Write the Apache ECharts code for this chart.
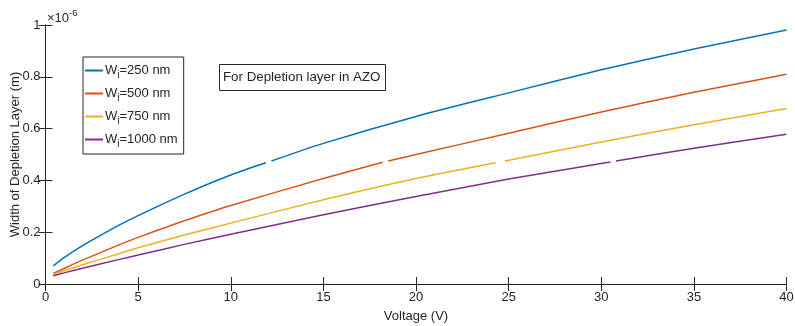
<!DOCTYPE html>
<html>
<head>
<meta charset="utf-8">
<script src="https://cdn.jsdelivr.net/npm/echarts@6/dist/echarts.min.js"></script>
<style>
  html, body { margin: 0; padding: 0; background: #fff; }
  #chart { width: 795px; height: 326px; }
</style>
</head>
<body>
<div id="chart"></div>
<script>
// Depletion width (in units of 1e-6 m) versus applied voltage, one curve per Wi.
// A null entry marks the short break drawn in each curve.
const voltage250 = [0.42, 1, 2, 4, 5, 7.5, 10, 11.9, 12.05, 12.2, 15, 20, 25, 30, 35, 40];
const width250   = [0.070, 0.102, 0.148, 0.228, 0.264, 0.347, 0.421, 0.468, null, 0.475, 0.543, 0.647, 0.738, 0.827, 0.907, 0.981];

const voltage500 = [0.42, 1, 2, 4, 5, 7.5, 10, 15, 18.2, 18.35, 18.5, 20, 25, 30, 35, 40];
const width500   = [0.041, 0.060, 0.092, 0.152, 0.180, 0.244, 0.303, 0.407, 0.470, null, 0.475, 0.500, 0.582, 0.664, 0.740, 0.810];

const voltage750 = [0.42, 1, 2, 4, 5, 7.5, 10, 15, 20, 24.3, 24.55, 24.8, 30, 35, 40];
const width750   = [0.037, 0.051, 0.074, 0.118, 0.140, 0.189, 0.235, 0.325, 0.407, 0.468, null, 0.475, 0.548, 0.615, 0.678];

const voltage1000 = [0.42, 1, 2, 4, 5, 7.5, 10, 15, 20, 25, 30, 30.5, 30.65, 30.8, 35, 40];
const width1000   = [0.032, 0.043, 0.061, 0.095, 0.112, 0.153, 0.192, 0.267, 0.338, 0.405, 0.465, 0.471, null, 0.475, 0.524, 0.578];

const seriesNames = ['250', '500', '750', '1000'];
const seriesColors = ['#0072BD', '#D95319', '#EDB120', '#7E2F8E'];
const xTicks = [0, 5, 10, 15, 20, 25, 30, 35, 40];
const yTicks = [0, 0.2, 0.4, 0.6, 0.8, 1];

const curves = [
  [voltage250, width250],
  [voltage500, width500],
  [voltage750, width750],
  [voltage1000, width1000]
];

function pairs(xs, ys) {
  return xs.map((x, i) => ys[i] === null ? ['-', '-'] : [x, ys[i]]);
}

const FONT = 'Liberation Sans, Arial, Helvetica, sans-serif';
const INK = '#262626';
const FS = 13;

const chart = echarts.init(document.getElementById('chart'), null, { renderer: 'canvas' });

const axisCommon = {
  type: 'value',
  nameMoveOverlap: false,
  axisLine: { show: true, lineStyle: { color: INK, width: 1 } },
  axisTick: { show: true, inside: true, length: 7, lineStyle: { color: INK, width: 1 } },
  splitLine: { show: false },
  minorTick: { show: false }
};

const option = {
  backgroundColor: '#ffffff',
  animation: false,
  textStyle: { fontFamily: FONT },
  grid: { left: 45.5, right: 8.5, top: 25, bottom: 42, containLabel: false, outerBoundsMode: 'none' },
  title: {
    text: 'For Depletion layer in AZO',
    left: 219,
    top: 64,
    padding: [7, 5, 7, 4],
    borderColor: INK,
    borderWidth: 1,
    backgroundColor: '#fff',
    textStyle: { fontFamily: FONT, fontSize: 13.3, fontWeight: 'normal', color: INK }
  },
  legend: {
    orient: 'vertical',
    left: 83,
    top: 57,
    itemWidth: 18,
    itemHeight: 2,
    itemGap: 7,
    padding: [7, 6, 5, 2],
    borderColor: INK,
    borderWidth: 1,
    backgroundColor: '#fff',
    data: seriesNames.map(n => ({ name: n, icon: 'rect' })),
    formatter: n => '{w|W}{s|i}{t|=' + n + ' nm}',
    textStyle: {
      fontFamily: FONT,
      color: INK,
      padding: [0, 0, 0, -3],
      rich: {
        w: { fontFamily: FONT, fontSize: FS, color: INK },
        s: { fontFamily: FONT, fontSize: 10, padding: [9, 0, 0, 0], color: INK },
        t: { fontFamily: FONT, fontSize: FS, color: INK }
      }
    }
  },
  graphic: [
    {
      type: 'text',
      left: 47,
      top: 8,
      style: {
        text: '{a|\u00d710}{b|-6}',
        rich: {
          a: { fontFamily: FONT, fontSize: FS, lineHeight: 17, verticalAlign: 'bottom', fill: INK },
          b: { fontFamily: FONT, fontSize: 9.5, lineHeight: 17, verticalAlign: 'top', fill: INK }
        }
      }
    }
  ],
  xAxis: [
    Object.assign({}, axisCommon, {
      position: 'bottom',
      min: xTicks[0],
      max: xTicks[xTicks.length - 1],
      interval: 5,
      name: 'Voltage (V)',
      nameLocation: 'middle',
      nameGap: 26,
      nameTextStyle: { fontFamily: FONT, fontSize: FS, color: INK },
      axisLabel: { margin: 7, fontFamily: FONT, fontSize: FS, color: INK }
    }),
    Object.assign({}, axisCommon, {
      position: 'top',
      min: xTicks[0],
      max: xTicks[xTicks.length - 1],
      interval: 5,
      axisLabel: { show: false }
    })
  ],
  yAxis: [
    Object.assign({}, axisCommon, {
      position: 'left',
      min: yTicks[0],
      max: yTicks[yTicks.length - 1],
      interval: 0.2,
      name: 'Width of Depletion Layer (m)',
      nameLocation: 'middle',
      nameGap: 24,
      nameTextStyle: { fontFamily: FONT, fontSize: FS, color: INK },
      axisLabel: {
        margin: 5, fontFamily: FONT, fontSize: FS, color: INK,
        formatter: v => String(Math.round(v * 10) / 10)
      }
    }),
    Object.assign({}, axisCommon, {
      position: 'right',
      min: yTicks[0],
      max: yTicks[yTicks.length - 1],
      interval: 0.2,
      axisLabel: { show: false }
    })
  ],
  series: curves.map((c, i) => ({
    name: seriesNames[i],
    type: 'line',
    xAxisIndex: 0,
    yAxisIndex: 0,
    data: pairs(c[0], c[1]),
    showSymbol: false,
    symbol: 'none',
    connectNulls: false,
    smooth: 0.25,
    color: seriesColors[i],
    lineStyle: { color: seriesColors[i], width: 1.5 },
    emphasis: { disabled: true }
  }))
};

chart.setOption(option);
</script>
</body>
</html>
